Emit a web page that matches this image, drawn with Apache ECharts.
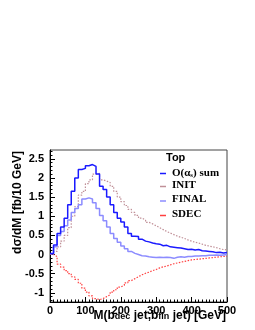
<!DOCTYPE html>
<html>
<head>
<meta charset="utf-8">
<script src="https://cdn.jsdelivr.net/npm/echarts@6/dist/echarts.min.js"></script>
<style>html,body{margin:0;padding:0;background:#fff;}#c{width:255px;height:330px;}</style>
</head>
<body>
<div id="c"></div>
<script>
// Bin lower edges [GeV], bin width 10 GeV
const binLow = [0,10,20,30,40,50,60,70,80,90,100,110,120,130,140,150,160,170,180,190,
  200,210,220,230,240,250,260,270,280,290,300,310,320,330,340,350,360,370,380,390,
  400,410,420,430,440,450,460,470,480,490];
const xEnd = 500;
const sumVals = [0.03,0.25,0.55,0.72,0.95,1.3,1.65,2.0,2.22,2.25,2.32,2.35,2.3,2.1,1.78,1.7,1.5,1.3,1.1,0.95,
  0.85,0.72,0.55,0.48,0.47,0.4,0.35,0.33,0.3,0.28,0.27,0.23,0.24,0.2,0.19,0.18,0.17,0.15,0.13,0.14,
  0.12,0.13,0.1,0.09,0.08,0.07,0.05,0.06,0.04,0.05];
const initVals = [0.0,0.08,0.2,0.35,0.5,0.7,1.0,1.25,1.55,1.65,1.85,1.95,2.1,2.12,1.95,1.92,1.88,1.78,1.65,1.5,
  1.38,1.28,1.18,1.1,1.02,0.95,0.9,0.84,0.8,0.75,0.7,0.65,0.6,0.56,0.52,0.48,0.45,0.42,0.38,0.35,
  0.32,0.3,0.27,0.24,0.22,0.2,0.18,0.15,0.13,0.12];
const finalVals = [0.02,0.2,0.5,0.6,0.75,0.9,1.1,1.2,1.3,1.45,1.48,1.45,1.35,1.2,1.02,0.88,0.72,0.55,0.42,0.32,
  0.22,0.15,0.08,0.03,0.0,-0.03,-0.04,-0.06,-0.07,-0.08,-0.07,-0.08,-0.07,-0.08,-0.1,-0.07,-0.06,-0.07,-0.05,-0.05,
  -0.04,-0.04,-0.03,-0.03,-0.02,-0.02,-0.01,-0.02,-0.01,0.0];
const sdecVals = [0.0,-0.05,-0.25,-0.33,-0.42,-0.5,-0.58,-0.65,-0.75,-0.88,-0.98,-1.08,-1.15,-1.18,-1.15,-1.1,-1.05,-0.98,-0.92,-0.85,
  -0.8,-0.74,-0.68,-0.63,-0.58,-0.53,-0.49,-0.46,-0.42,-0.39,-0.35,-0.32,-0.3,-0.27,-0.24,-0.22,-0.2,-0.18,-0.16,-0.14,
  -0.13,-0.12,-0.11,-0.1,-0.09,-0.08,-0.07,-0.06,-0.05,-0.04];
const yTickLabels = [-1,-0.5,0,0.5,1,1.5,2,2.5];
const xTickLabels = [0,100,200,300,400,500];

function steps(vals){
  const d = binLow.map((x,i)=>[x, vals[i]]);
  d.push([xEnd, vals[vals.length-1]]);
  return d;
}
const yMinor = [];
for (let k = -12; k <= 27; k++) yMinor.push(Math.round(k)/10);

const chart = echarts.init(document.getElementById('c'), null, {renderer:'canvas'});
const sans = 'Liberation Sans';
const serif = 'Liberation Serif';
const legRich = {
  a:{fontFamily:serif, fontWeight:'bold', fontSize:11, lineHeight:11, verticalAlign:'top', color:'#000'},
  s:{fontFamily:serif, fontWeight:'bold', fontSize:7, lineHeight:7, verticalAlign:'bottom', padding:[7,0,0,0], color:'#000'},
  b:{fontFamily:serif, fontWeight:'bold', fontSize:11, lineHeight:11, padding:[0,0,3,0], color:'#000'}
};
chart.setOption({
  animation:false,
  backgroundColor:'#fff',
  title:{
    text:'{a|M(b}{s|dec}{a| jet,b}{s|fin}{a| jet) [GeV]}',
    right:29, top:309.5, padding:0, itemGap:0,
    textStyle:{rich:{
      a:{fontFamily:sans, fontWeight:'bold', fontSize:12, lineHeight:12, verticalAlign:'top', color:'#000'},
      s:{fontFamily:sans, fontWeight:'bold', fontSize:9, lineHeight:9, verticalAlign:'bottom', padding:[9,0,0,0], color:'#000'}
    }}
  },
  grid:{left:50, right:28, top:150, bottom:28, show:true, borderColor:'#444', borderWidth:1,
    backgroundColor:'transparent', containLabel:false, outerBoundsMode:'none'},
  xAxis:{type:'value', min:0, max:500, interval:100,
    axisLine:{show:true, onZero:false, lineStyle:{color:'#000', width:1}},
    axisTick:{show:true, inside:true, length:5, lineStyle:{color:'#000'}},
    minorTick:{show:true, splitNumber:10, length:2.5, lineStyle:{color:'#000'}},
    splitLine:{show:false},
    axisLabel:{margin:3, fontFamily:sans, fontWeight:'bold', fontSize:11, color:'#000',
      customValues:xTickLabels}
  },
  yAxis:[{type:'value', min:-1.24, max:2.73,
    axisLine:{show:true, onZero:false, lineStyle:{color:'#000', width:1}},
    axisTick:{show:true, inside:true, length:5, customValues:yTickLabels, lineStyle:{color:'#000'}},
    splitLine:{show:false},
    axisLabel:{margin:6, fontFamily:sans, fontWeight:'bold', fontSize:11, color:'#000',
      customValues:yTickLabels, formatter:v=>String(v)}
  },{type:'value', min:-1.24, max:2.73, position:'left',
    axisLine:{show:false, onZero:false},
    axisTick:{show:true, inside:true, length:2.5, customValues:yMinor, lineStyle:{color:'#000'}},
    axisLabel:{show:false}, splitLine:{show:false}
  }],
  legend:{orient:'vertical', left:160, top:165, itemWidth:6, itemHeight:1.5, itemGap:0.5, padding:0,
    icon:'rect',
    data:['sum','INIT','FINAL','SDEC'],
    formatter:n=> n==='sum' ? '{a|O(α}{s|s}{a|) sum}' : '{b|'+n+'}',
    textStyle:{rich:legRich, padding:[0,0,0,1]}
  },
  graphic:[
    {type:'text', x:166, y:152, style:{text:'Top', font:'bold 11px "Liberation Sans"', fill:'#000', verticalAlign:'top'}},
    {type:'text', x:17.5, y:151, rotation:Math.PI/2, style:{
      text:'dσ/dM [fb/10 GeV]', font:'bold 12px "Liberation Sans"', fill:'#000',
      align:'right', verticalAlign:'middle'}}
  ],
  series:[
    {name:'INIT', type:'line', step:'end', symbol:'none', data:steps(initVals), z:2,
      lineStyle:{color:'#c09098', width:1.2, type:[1.5,1.5]}, itemStyle:{color:'#c09098'}},
    {name:'SDEC', type:'line', step:'end', symbol:'none', data:steps(sdecVals), z:2,
      lineStyle:{color:'#ff4040', width:1.2, type:[1.5,1.5]}, itemStyle:{color:'#ff4040'}},
    {name:'FINAL', type:'line', step:'end', symbol:'none', data:steps(finalVals), z:3,
      lineStyle:{color:'#8c8cff', width:1.5}, itemStyle:{color:'#8c8cff'}},
    {name:'sum', type:'line', step:'end', symbol:'none', data:steps(sumVals), z:4,
      lineStyle:{color:'#1a1aff', width:1.5}, itemStyle:{color:'#1a1aff'}}
  ]
});
</script>
</body>
</html>
